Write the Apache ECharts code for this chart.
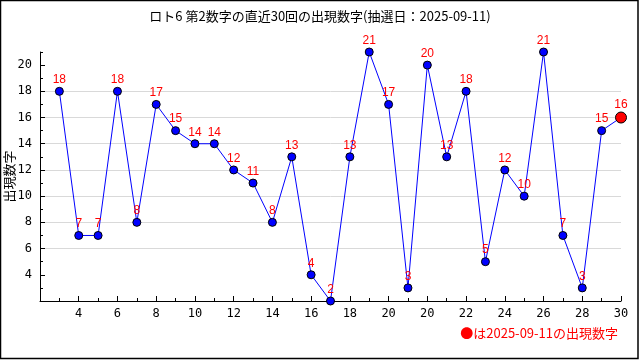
<!DOCTYPE html>
<html><head><meta charset="utf-8">
<script src="https://cdn.jsdelivr.net/npm/echarts@6/dist/echarts.min.js"></script>
<style>html,body{margin:0;padding:0;background:#fff}#c{width:640px;height:360px}</style>
</head><body><div id="c"></div>
<script>
const drawNo = [1,2,3,4,5,6,7,8,9,10,11,12,13,14,15,16,17,18,19,20,21,22,23,24,25,26,27,28,29,30];
const values = [18,7,7,18,8,17,15,14,14,12,11,8,13,4,2,13,21,17,3,20,13,18,5,12,10,21,7,3,15,16];
const xTickLabels = ['4','6','8','10','12','14','16','18','20','20','22','24','26','28','30'];
const yTickLabels = [4,6,8,10,12,14,16,18,20];
const titleText = 'ロト6 第2数字の直近30回の出現数字(抽選日：2025-09-11)';
const yName = '出現数字';
const noteText = '●は2025-09-11の出現数字';

const font = '"Noto Sans CJK JP", "DejaVu Sans", sans-serif';
const data = drawNo.map((n, i) => {
  const last = i === drawNo.length - 1;
  return {
    value: [n, values[i]],
    symbolSize: last ? 11 : 8,
    itemStyle: { color: last ? '#ff0000' : '#0000ff', borderColor: '#000', borderWidth: 1 }
  };
});

const chart = echarts.init(document.getElementById('c'), null, { renderer: 'canvas' });
chart.setOption({
  animation: false,
  backgroundColor: '#fff',
  title: { text: titleText, left: 'center', top: 5,
    textStyle: { fontFamily: font, fontSize: 13, fontWeight: 'normal', color: '#000' } },
  grid: { left: 40, right: 19, top: 52, bottom: 59, containLabel: false, outerBoundsMode: 'none' },
  xAxis: [
    { type: 'value', min: 0, max: 30, interval: 1,
      axisLine: { show: true, lineStyle: { color: '#000', width: 1 } },
      axisTick: { show: true, inside: true, length: 3, lineStyle: { color: '#000' } },
      axisLabel: { show: false }, splitLine: { show: false } },
    { type: 'value', min: 0, max: 30, interval: 2, position: 'bottom',
      axisLine: { show: false },
      axisTick: { show: true, inside: true, length: 5, lineStyle: { color: '#000' } },
      axisLabel: { show: true, margin: 7, color: '#000', fontSize: 12, fontFamily: '"DejaVu Sans Mono", monospace',
        formatter: v => (v >= 2 && v % 2 === 0) ? xTickLabels[v / 2 - 1] : '' },
      splitLine: { show: false } }
  ],
  yAxis: [
    { type: 'value', min: 2, max: 21, interval: 1, position: 'left',
      name: yName, nameLocation: 'middle', nameGap: 24,
      nameTextStyle: { fontFamily: font, fontSize: 13, color: '#000' },
      axisLine: { show: true, lineStyle: { color: '#000', width: 1 } },
      axisTick: { show: true, inside: true, length: 3, lineStyle: { color: '#000' } },
      axisLabel: { show: false }, splitLine: { show: false } },
    { type: 'value', min: 2, max: 21, interval: 2, position: 'left',
      axisLine: { show: false },
      axisTick: { show: true, inside: true, length: 5, customValues: yTickLabels, lineStyle: { color: '#000' } },
      axisLabel: { show: true, margin: 8, color: '#000', fontSize: 12, fontFamily: '"DejaVu Sans Mono", monospace',
        customValues: yTickLabels,
        formatter: v => (v >= 4 && v <= 20 && v % 2 === 0) ? String(v) : '' },
      splitLine: { show: true, showMinLine: false, showMaxLine: false, lineStyle: { color: '#d9d9d9', width: 1 } } }
  ],
  series: [{
    type: 'line', xAxisIndex: 0, yAxisIndex: 0,
    data: data, symbol: 'circle',
    lineStyle: { color: '#0000ff', width: 1 },
    label: { show: true, position: 'top', distance: 1, color: '#ff0000', fontSize: 12,
      fontFamily: '"Liberation Sans", Arial, sans-serif', formatter: p => p.value[1] },
    z: 3
  }],
  graphic: [
    { type: 'rect', shape: { x: 0.5, y: 0.5, width: 637.5, height: 358 }, style: { fill: null, stroke: '#000', lineWidth: 1.5 }, silent: true },
    { type: 'text', right: 22, top: 327, style: { text: noteText, fill: '#ff0000', font: '13px ' + font } }
  ]
});
</script></body></html>
